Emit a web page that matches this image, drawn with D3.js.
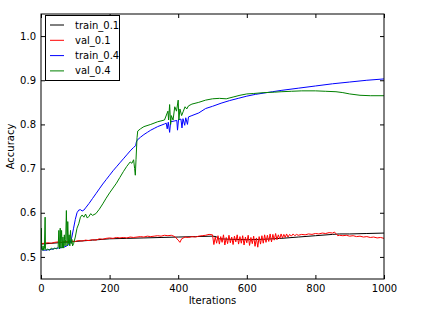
<!DOCTYPE html>
<html><head><meta charset="utf-8">
<script src="https://cdn.jsdelivr.net/npm/d3@7"></script>
<style>body{margin:0;background:#fff}svg{display:block}text{font-family:"DejaVu Sans",sans-serif;font-size:10px;fill:#000}</style>
</head><body><div id="chart"></div>
<script>
const xTicks = [0, 200, 400, 600, 800, 1000];
const yTicks = [0.5, 0.6, 0.7, 0.8, 0.9, 1.0];
const seriesNames = ["train_0.1", "val_0.1", "train_0.4", "val_0.4"];

const train01Iter = [0,50,100,150,200,250,300,350,400,450,500,510,520,550,600,650,700,750,800,850,870,900,950,1000];
const train01Acc  = [0.529,0.532,0.535,0.538,0.541,0.542,0.543,0.544,0.545,0.546,0.547,0.546,0.541,0.540,0.539,0.540,0.542,0.545,0.548,0.551,0.552,0.552,0.553,0.554];

const val01Iter = [0,10,20,30,40,50,60,70,80,90,100,110,120,130,140,150,160,170,180,190,200,210,220,230,240,250,260,270,280,290,300,310,320,330,340,350,360,370,380,390,400,405,410,420,430,440,450,460,470,480,490,500,
 504,508,512,516,520,524,528,532,536,540,544,548,552,556,560,564,568,572,576,580,584,588,592,596,600,604,608,612,616,620,624,628,632,636,640,644,648,652,656,660,664,668,672,676,680,684,688,692,696,700,704,708,712,716,720,725,730,735,740,745,
 750,760,770,780,790,800,810,820,830,840,850,855,860,865,870,880,890,900,910,920,930,940,950,960,970,980,990,1000];
const val01Acc = [0.530,0.531,0.532,0.531,0.533,0.534,0.533,0.535,0.534,0.536,0.535,0.537,0.536,0.538,0.537,0.539,0.538,0.541,0.540,0.542,0.543,0.542,0.544,0.543,0.544,0.543,0.545,0.544,0.545,0.546,0.545,0.547,0.546,0.547,0.548,0.547,0.549,0.548,0.549,0.546,0.538,0.533,0.541,0.545,0.544,0.546,0.545,0.547,0.548,0.549,0.551,0.550,
 0.528,0.545,0.531,0.548,0.529,0.546,0.533,0.550,0.527,0.544,0.530,0.549,0.532,0.545,0.528,0.547,0.534,0.550,0.529,0.546,0.531,0.548,0.527,0.545,0.532,0.549,0.526,0.544,0.530,0.547,0.524,0.543,0.522,0.546,0.529,0.548,0.531,0.550,0.533,0.549,0.535,0.552,0.534,0.551,0.538,0.553,0.539,0.550,0.541,0.552,0.543,0.551,0.544,0.552,0.545,0.551,0.547,0.552,0.548,0.551,
 0.549,0.551,0.550,0.552,0.551,0.553,0.552,0.554,0.553,0.555,0.554,0.556,0.553,0.548,0.549,0.548,0.549,0.547,0.548,0.546,0.547,0.545,0.546,0.544,0.545,0.543,0.544,0.542];

const train04Iter = [0,3,10,20,30,40,50,60,70,80,85,90,95,100,105,110,115,120,125,130,140,150,160,170,180,190,200,210,220,230,240,250,260,270,276,278,280,290,300,310,320,330,340,350,360,365,368,371,375,378,390,396,398,401,408,411,414,419,422,427,430,440,460,480,500,525,550,575,600,625,650,675,700,750,800,850,900,950,1000];
const train04Acc  = [0.525,0.516,0.515,0.516,0.517,0.519,0.520,0.521,0.523,0.527,0.532,0.545,0.565,0.585,0.600,0.606,0.607,0.604,0.606,0.611,0.621,0.632,0.643,0.654,0.665,0.675,0.685,0.695,0.704,0.713,0.722,0.731,0.740,0.748,0.752,0.760,0.764,0.771,0.777,0.782,0.787,0.791,0.795,0.798,0.801,0.803,0.790,0.805,0.782,0.806,0.808,0.809,0.787,0.811,0.812,0.792,0.813,0.798,0.815,0.800,0.817,0.820,0.826,0.836,0.841,0.848,0.854,0.859,0.864,0.868,0.871,0.874,0.877,0.882,0.887,0.892,0.896,0.900,0.903];

const val04Iter = [0,1,2,4,6,8,10,12,13,15,20,25,30,35,40,45,50,52,54,56,58,60,62,64,66,68,70,72,74,76,78,80,82,84,86,88,90,92,95,100,105,110,115,120,125,130,135,140,145,150,160,170,180,190,200,210,220,230,240,250,260,265,270,273,275,277,280,282,290,300,320,340,360,370,372,375,378,380,385,390,395,400,402,405,410,415,420,425,430,440,460,480,500,520,540,560,580,600,620,650,680,700,730,760,800,830,860,880,900,930,960,1000];
const val04Acc  = [0.520,0.565,0.520,0.515,0.525,0.515,0.520,0.590,0.520,0.515,0.518,0.515,0.520,0.517,0.520,0.518,0.522,0.560,0.518,0.565,0.520,0.560,0.520,0.545,0.520,0.550,0.525,0.540,0.605,0.525,0.580,0.530,0.550,0.525,0.560,0.530,0.540,0.525,0.530,0.545,0.565,0.575,0.590,0.595,0.590,0.597,0.588,0.592,0.598,0.594,0.598,0.608,0.620,0.633,0.645,0.656,0.667,0.680,0.693,0.705,0.715,0.712,0.720,0.700,0.685,0.720,0.770,0.785,0.790,0.795,0.800,0.806,0.810,0.830,0.810,0.845,0.800,0.820,0.810,0.840,0.830,0.855,0.810,0.835,0.820,0.830,0.840,0.835,0.842,0.846,0.850,0.855,0.858,0.859,0.858,0.862,0.866,0.869,0.870,0.872,0.873,0.874,0.875,0.876,0.876,0.875,0.874,0.872,0.869,0.866,0.865,0.865];

const W = 423, H = 314;
const m = {left: 41, right: 384, top: 14, bottom: 279};
const svg = d3.select("#chart").append("svg").attr("width", W).attr("height", H);

const x = d3.scaleLinear().domain([0, 1000]).range([m.left, m.right]);
const y = d3.scaleLinear().domain([0.45, 1.05]).range([m.bottom, m.top]);

svg.append("clipPath").attr("id", "clip").append("rect")
  .attr("x", m.left).attr("y", m.top).attr("width", m.right - m.left).attr("height", m.bottom - m.top);

const series = [
  {name: seriesNames[0], it: train01Iter, v: train01Acc, color: "#000000"},
  {name: seriesNames[1], it: val01Iter, v: val01Acc, color: "#ff0000"},
  {name: seriesNames[2], it: train04Iter, v: train04Acc, color: "#0000ff"},
  {name: seriesNames[3], it: val04Iter, v: val04Acc, color: "#008000"}
];

const g = svg.append("g").attr("clip-path", "url(#clip)");
series.forEach(s => {
  const pts = s.it.map((d, i) => [d, s.v[i]]);
  g.append("path").datum(pts)
    .attr("fill", "none").attr("stroke", s.color).attr("stroke-width", 1)
    .attr("d", d3.line().x(d => x(d[0])).y(d => y(d[1])));
});

// axes with inward ticks on all four sides
const tickLen = 4;
const axB = svg.append("g").attr("transform", `translate(0,${m.bottom})`)
  .call(d3.axisBottom(x).tickValues(xTicks).tickSizeInner(-tickLen).tickSizeOuter(0).tickPadding(6).tickFormat(d3.format("d")));
const axT = svg.append("g").attr("transform", `translate(0,${m.top})`)
  .call(d3.axisTop(x).tickValues(xTicks).tickSizeInner(-tickLen).tickSizeOuter(0).tickFormat(""));
const axL = svg.append("g").attr("transform", `translate(${m.left},0)`)
  .call(d3.axisLeft(y).tickValues(yTicks).tickSizeInner(-tickLen).tickSizeOuter(0).tickPadding(5).tickFormat(d3.format(".1f")));
const axR = svg.append("g").attr("transform", `translate(${m.right},0)`)
  .call(d3.axisRight(y).tickValues(yTicks).tickSizeInner(-tickLen).tickSizeOuter(0).tickFormat(""));
[axB, axT, axL, axR].forEach(a => {
  a.select(".domain").remove();
  a.selectAll("text").attr("font-family", "DejaVu Sans").attr("font-size", 10).attr("fill", "#000");
  a.selectAll("line").attr("stroke", "#000");
});

svg.append("rect").attr("x", m.left).attr("y", m.top)
  .attr("width", m.right - m.left).attr("height", m.bottom - m.top)
  .attr("fill", "none").attr("stroke", "#000").attr("stroke-width", 1);

svg.append("text").attr("x", (m.left + m.right) / 2).attr("y", 304).attr("text-anchor", "middle").text("Iterations");
svg.append("text").attr("transform", `translate(14,${(m.top + m.bottom) / 2}) rotate(-90)`).attr("text-anchor", "middle").text("Accuracy");

// legend
const lg = svg.append("g");
lg.append("rect").attr("x", 45.5).attr("y", 15.5).attr("width", 74).attr("height", 65)
  .attr("fill", "#fff").attr("stroke", "#000").attr("stroke-width", 1);
series.forEach((s, i) => {
  const yy = 25 + i * 15.3;
  lg.append("line").attr("x1", 50).attr("x2", 64).attr("y1", yy).attr("y2", yy).attr("stroke", s.color).attr("stroke-width", 1);
  lg.append("text").attr("x", 75).attr("y", yy + 3.5).text(s.name);
});
</script></body></html>
